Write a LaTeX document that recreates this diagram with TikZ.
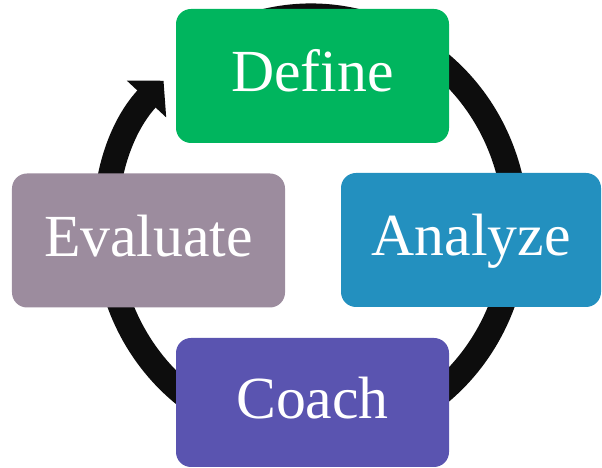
\documentclass[tikz,border=0pt]{standalone}
\usepackage{fontspec}
\setmainfont{Liberation Serif}
\usepackage{tikz}
\usetikzlibrary{arrows.meta}
\definecolor{define green}{rgb}{0.0, 0.7098, 0.3686}
\definecolor{analyze blue}{rgb}{0.1373, 0.5647, 0.7490}
\definecolor{coach purple}{rgb}{0.3529, 0.3294, 0.6902}
\definecolor{evaluate mauve}{rgb}{0.6118, 0.5490, 0.6196}
\definecolor{ring black}{rgb}{0.05, 0.05, 0.05}

\begin{document}
\begin{tikzpicture}[
		stage/.style = {rounded corners = 0.3cm, text = white,
			minimum width = 5.46cm, minimum height = 2.68cm,
			text height = 24pt, text depth = 6pt,
			font = \fontsize{34}{40}\selectfont},
		cycle ring/.style = {draw = ring black, line width = 0.5cm,
			-{Triangle[width = 1.05cm, length = 0.5cm]}}
	]
			\useasboundingbox (0, 0) rectangle (12.04, 9.36);
			% ring behind the boxes
			\coordinate (hub) at (6.22, 4.8);
			\draw[cycle ring] (hub) ++(110:4.1 and 4.24)
				arc[start angle = 110, end angle = -224, x radius = 4.1, y radius = 4.24];
			% boxes
			\node[stage, fill = define green] (define) at (6.25, 7.84) {Define};
			\node[stage, fill = analyze blue, minimum width = 5.2cm] (analyze) at (9.42, 4.56) {Analyze};
			\node[stage, fill = coach purple, minimum height = 2.58cm] (coach) at (6.25, 1.31) {Coach};
			\node[stage, fill = evaluate mauve] (evaluate) at (2.97, 4.55) {Evaluate};
		\end{tikzpicture}
\end{document}
